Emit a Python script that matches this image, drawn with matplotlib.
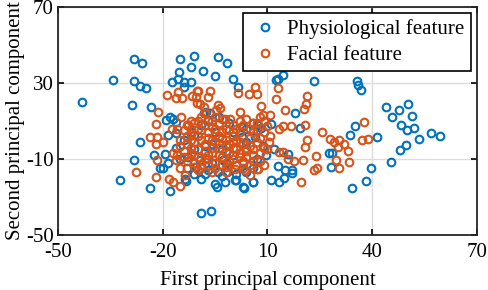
import matplotlib
matplotlib.use('Agg')
import matplotlib.pyplot as plt

# physiological feature points (first pc, second pc)
phys_x = [-43.1, -34.3, -28.2, -25.9, -28.2, -26.6, -24.9, -28.9, -23.5, -15.1, -11.1, -11.9,
          -15.3, -17.4, -15.5, -14.0, -12.0, -14.0, -18.0, -4.3, -1.6, -8.5, -4.9, 0.1, 1.7,
          12.9, 14.6, 12.5, 23.3, 17.8, -8.1, -6.6, 35.6, 36.1, 36.8, 43.9, 47.7, 50.4, 51.5,
          45.6, 48.2, 49.9, 52.0, 53.4, 56.9, 59.5, 49.8, 48.0, 45.5, 41.5, 35.1, 33.7, 28.4,
          28.2, 39.6, 38.3, 34.2, 10.9, 19.3, 11.8, 16.0, 12.9, 15.1, 17.0, 17.0, 14.7, 13.2,
          11.0, 5.8, 3.2, 1.0, -4.5, -8.9, -6.2, 27.7, -26.6, -28.3, -32.3, -23.7, -17.8,
          -22.5, -19.3, -18.5, -20.9, -19.9, -13.2, -18.5, -16.1, -19.0, -17.2, -16.3,
          -12.8, -9.4, -9.0, -5.1, -13.7, -7.1, -4.2, 0.7, 3.1, 5.9, -2.2, -2.7, -1.7, 2.6,
          4.0, 5.9, 7.3, 8.3, 2.6, 6.4, 4.0, -7.5, -12.8, -16.1, -10.9, -7.1, -10.5, -6.0,
          -3.0, 0.0, -8.0, -14.0, -5.0, -1.0, 8.6, 7.0, 9.5, -11.0,
          -13.0, -8.0, -3.0, 1.0, 4.0, -15.0, -11.0, -6.0, -2.0, 3.0, 6.0, -12.0, -9.0, -4.0, 0.0]
phys_y = [20.0, 31.7, 42.5, 40.4, 31.2, 28.4, 27.4, 18.4, 17.2, 42.5, 44.2, 38.6,
          35.8, 30.7, 32.0, 30.5, 30.5, 28.0, 12.0, 43.9, 40.7, 36.2, 33.7, 32.3, 28.0,
          32.3, 34.4, 31.5, 31.0, 14.0, 14.0, 14.0, 31.2, 28.8, 26.3, 17.5, 15.8, 18.9, 12.6,
          12.0, 7.9, 5.3, 6.2, 0.5, 3.5, 2.1, -2.6, -5.3, -11.4, 1.7, 7.5, 2.6, -6.7,
          -14.4, -14.7, -21.6, -25.1, 8.4, 6.2, -4.7, -7.5, -13.7, -15.8, -15.8, -17.2, -20.2, -21.9,
          -21.1, -21.9, -25.4, -21.1, -24.6, -38.3, -37.2, -7.0, -1.2, -10.5, -21.1, -25.4, -26.8,
          -7.9, -7.5, -12.3, -14.9, -14.9, -21.6, 2.6, 3.5, 10.5, 10.9, 9.6,
          -8.9, -10.7, -20.4, -23.0, -20.4, -16.0, -16.8, -21.3, -24.7, -22.1, -22.1, -10.7, -16.8, 7.0,
          5.8, 8.8, 7.9, 6.2, 1.7, 1.7, -0.9, 14.9, 7.9, -4.4, 2.6, 10.5, -14.0, -12.0,
          -5.0, -8.0, -3.0, 0.0, 4.0, 9.0, -3.0, -10.0, -8.0, -18.0,
          -15.0, -18.0, -19.0, -18.0, -17.0, -10.0, -5.0, -2.0, -12.0, -12.0, -15.0, 4.0, 8.0, 12.0, 4.0]

# facial feature points
face_x = [-21.5, -18.7, -15.6, -16.1, -14.6, -11.5, -10.1, -10.1, -14.7, -9.8, -6.6, -7.1,
          -10.6, -9.4, -8.1, -4.1, -3.5, -4.7, 1.7, 4.7, 6.3, 7.1, 8.2, 2.0, 8.7, 10.6,
          12.9, 12.5, 14.9, 20.6, 21.1, 21.3, -2.3, -0.6, 37.7, 25.6, 28.0, 29.1, 30.4, 32.0,
          30.1, 33.0, 37.1, 38.7, 29.6, 33.4, 30.4, 23.4, 24.2, 23.9, 10.6, 13.2, 14.4, 16.7,
          20.8, 21.3, 20.9, 20.1, 17.7, 15.8, 13.2, 14.4, 7.2, 4.9, 19.6, -27.7, -21.8, -18.2,
          -17.1, -15.1, -21.6, -17.1, -23.7, -21.6, -21.8, -19.9, -21.8, -17.3, -12.8, -16.1,
          -15.1, -13.7,
          -14.0, -12.0, -10.0, -8.0, -6.0, -4.0, -2.0, 0.0, 2.0, 4.0, 6.0, 8.0, 9.0, 10.0, 8.0,
          -13.0, -11.0, -9.0, -7.0, -5.0, -3.0, -1.0, 1.0, 3.0, 5.0, 7.0, 9.0, -14.0, -12.0,
          -10.0, -8.0, -6.0, -4.0, -2.0, 0.0, 2.0, 4.0, 6.0, 8.0, -13.0, -11.0, -9.0, -7.0,
          -5.0, -3.0, -1.0, 1.0, 3.0, 5.0, -10.0, -6.0, -2.0, -12.0, -9.0, -5.0, 10.5, -15.0,
          9.0, -11.0, -4.0, 2.0, -7.0, 0.0, 6.0, -2.0, -16.0, 0.7, -1.2, 3.5, 6.9,
          -13.0, -11.0, -9.0, -7.0, -5.0, -3.0, -1.0, 1.0, 3.0, 5.0, 7.0, -12.0, -10.0, -8.0,
          -6.0, -4.0, -2.0, 0.0, 2.0, 4.0, 6.0, 8.0, -14.0, -12.0, -10.0, -8.0, -6.0, -4.0,
          -2.0, 0.0, 2.0, 4.0, 6.0, -9.0, -7.0, -5.0, -3.0, -1.0, 1.0, 3.0, -11.0, -13.0,
          -15.0, -12.0, -6.0, -3.0, 7.0, 9.0, 10.0, -8.0, -10.0, 5.0, -16.0, -7.0]
face_y = [14.6, 23.7, 25.4, 22.0, 22.0, 23.3, 25.8, 19.3, 12.3, 26.0, 26.0, 22.5,
          22.8, 18.9, 17.5, 18.2, 16.7, 15.8, 24.9, 24.0, 27.7, 24.0, 17.9, 14.9, 13.2, 13.2,
          27.2, 21.4, 15.8, 16.2, 18.9, 23.2, 11.0, 11.0, 9.3, 4.0, 0.4, -0.9, 0.0, -2.3,
          -3.5, -5.8, 0.0, 0.4, -10.5, -11.4, -14.9, -15.8, -14.6, -8.3, 2.1, 5.8, 7.5, 7.4,
          7.9, 0.0, -3.5, -10.5, -10.9, -10.2, -6.2, -6.2, -15.5, -18.4, -21.9, -16.7, -19.3, -20.7,
          -21.9, -24.2, -10.5, -6.7, 1.4, 1.7, -2.3, -1.2, 8.4, 5.6, 7.9, -10.5,
          -14.9, -18.4,
          5.0, 3.0, 6.0, 8.0, 7.0, 9.0, 6.0, 8.0, 10.0, 11.0, 9.0, 12.0, 4.0, 7.5, 1.0,
          -2.0, -1.0, 0.0, 1.0, -1.0, 1.0, -2.0, 0.0, -2.0, -3.0, -1.0, -4.0, -6.0, -7.0,
          -5.0, -6.0, -7.0, -4.0, -6.0, -4.0, -7.0, -6.0, -8.0, -11.0, -11.0, -12.0, -13.0, -10.0,
          -12.0, -9.0, -11.0, -13.0, -11.0, -13.0, -16.0, -17.0, -14.0, 10.0, 12.0, 12.0, -1.0, 0.0,
          -13.0, -8.0, 2.0, 4.0, 4.0, 2.0, 4.0, -17.0, 6.0, -15.1, -13.3, -16.0, -15.1,
          8.0, 9.0, 5.0, 10.0, 6.0, 4.0, 5.0, 6.0, 8.0, 6.0, 5.0, 0.0, 2.0, -2.0,
          0.0, -2.0, 0.0, -1.0, -1.0, -4.0, -5.0, -7.0, -9.0, -4.0, -9.0, -10.0, -4.0, -8.0,
          -3.0, -10.0, -9.0, -9.0, -11.0, -15.0, -13.0, -15.0, -13.0, -7.0, -5.0, -15.0, -14.0, 2.0,
          -3.0, 6.0, 10.0, 11.0, 9.0, 10.0, -5.0, 14.0, 10.0, 1.0, -8.0, -8.0]

xticks = [-50, -20, 10, 40, 70]
yticks = [-50, -10, 30, 70]

plt.rcParams['font.family'] = ['Liberation Serif', 'DejaVu Serif']
plt.rcParams['font.size'] = 15
plt.rcParams['axes.unicode_minus'] = False

fig = plt.figure(figsize=(4.88, 2.9), dpi=100)
ax = fig.add_axes([0.119, 0.190, 0.858, 0.786])

blue = '#0072BD'
orange = '#D95319'
ax.plot(phys_x, phys_y, 'o', ms=5.5, mfc='none', mec=blue, mew=1.5, label='Physiological feature')
ax.plot(face_x, face_y, 'o', ms=5.5, mfc='none', mec=orange, mew=1.5, label='Facial feature')

ax.set_xlim(-50, 70)
ax.set_ylim(-50, 70)
ax.set_xticks(xticks)
ax.set_yticks(yticks)
ax.grid(True, color='#dcdcdc', lw=1)
ax.set_axisbelow(True)
ax.tick_params(direction='in', top=True, right=True, length=4, width=1.2)
ax.tick_params(axis='x', pad=6)
ax.tick_params(axis='y', pad=3)
for s in ax.spines.values():
    s.set_linewidth(1.3)
    s.set_color('#262626')

ax.set_xlabel('First principal component', labelpad=6)
ax.set_ylabel('Second principal component', labelpad=1)

leg = ax.legend(loc='upper right', fancybox=False, framealpha=1, edgecolor='black',
                handletextpad=0.3, borderpad=0.3, labelspacing=0.3, handlelength=1.5,
                borderaxespad=0.3)
leg.get_frame().set_linewidth(1.2)

plt.savefig('out.png', dpi=100)
